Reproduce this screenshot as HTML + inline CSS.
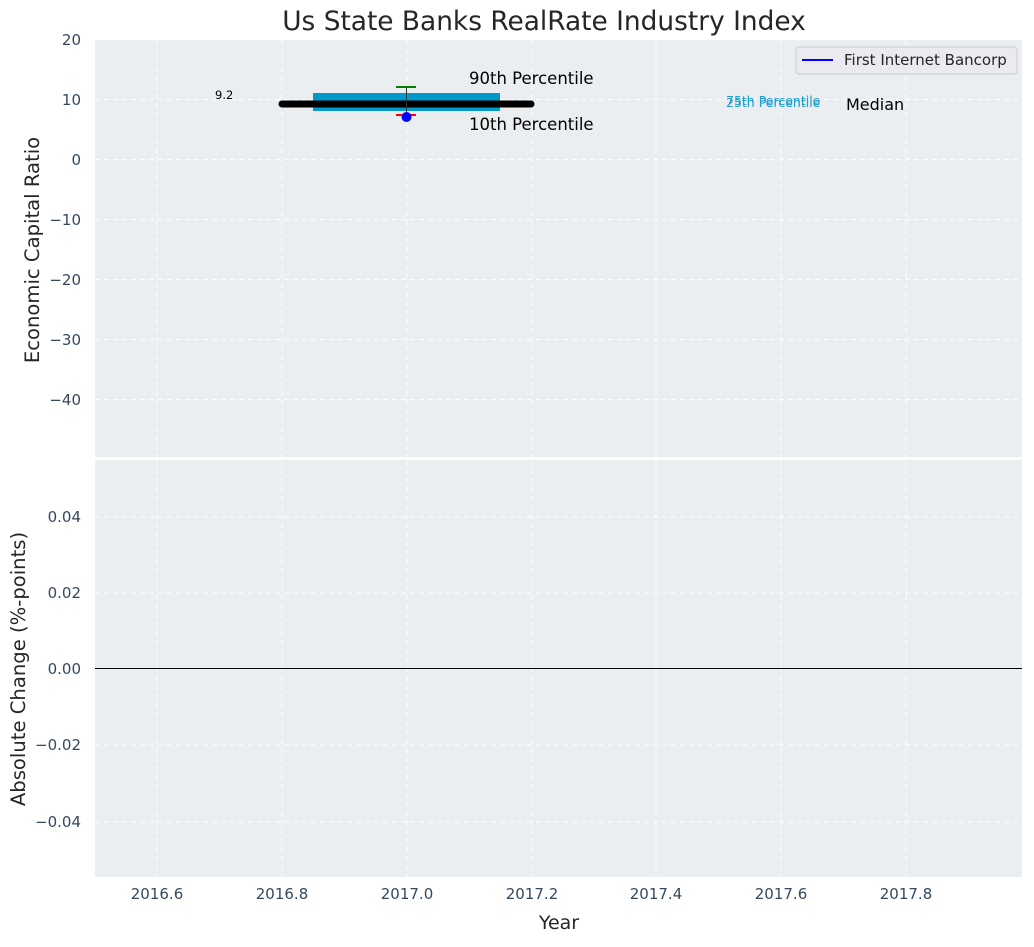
<!DOCTYPE html>
<html><head><meta charset="utf-8"><style>
html,body{margin:0;padding:0;background:#fff;}
svg text{font-family:"DejaVu Sans","Liberation Sans",sans-serif;}
</style></head><body>
<svg width="1034" height="942" viewBox="0 0 1034 942" xmlns="http://www.w3.org/2000/svg">
<rect width="1034" height="942" fill="#fff"/>
<text x="544" y="30" font-size="26.4" text-anchor="middle" fill="#262626">Us State Banks RealRate Industry Index</text>
<!-- top axes -->
<rect x="95" y="40" width="927" height="417" fill="#eaeef0"/>
<g stroke="#fff" stroke-dasharray="5,4" stroke-width="1" opacity="0.9">
<line x1="157" y1="40" x2="157" y2="457"/><line x1="282" y1="40" x2="282" y2="457"/><line x1="407" y1="40" x2="407" y2="457"/><line x1="532" y1="40" x2="532" y2="457"/><line x1="656" y1="40" x2="656" y2="457"/><line x1="781" y1="40" x2="781" y2="457"/><line x1="906" y1="40" x2="906" y2="457"/>
<line x1="95" y1="99.5" x2="1022" y2="99.5"/><line x1="95" y1="159.5" x2="1022" y2="159.5"/><line x1="95" y1="219.5" x2="1022" y2="219.5"/><line x1="95" y1="279.5" x2="1022" y2="279.5"/><line x1="95" y1="339.5" x2="1022" y2="339.5"/><line x1="95" y1="399.5" x2="1022" y2="399.5"/>
</g>
<g font-size="15" fill="#34495e" text-anchor="end">
<text x="81" y="45">20</text><text x="81" y="105">10</text><text x="81" y="165">0</text><text x="81" y="225">−10</text><text x="81" y="285">−20</text><text x="81" y="345">−30</text><text x="81" y="405">−40</text>
</g>
<text transform="translate(39,250) rotate(-90)" font-size="19.6" text-anchor="middle" fill="#262626">Economic Capital Ratio</text>
<rect x="313" y="93" width="187" height="18" fill="#0099cc"/>
<line x1="282" y1="104" x2="531" y2="104" stroke="#000" stroke-width="7" stroke-linecap="round"/>
<line x1="406.5" y1="87" x2="406.5" y2="117" stroke="#333" stroke-width="1"/>
<line x1="396" y1="87" x2="416" y2="87" stroke="green" stroke-width="2"/>
<line x1="396" y1="115" x2="416" y2="115" stroke="red" stroke-width="2"/>
<circle cx="406.5" cy="117" r="5" fill="blue"/>
<text x="215" y="99" font-size="11.5" fill="#000">9.2</text>
<text x="469" y="84" font-size="16.5" fill="#000">90th Percentile</text>
<text x="469" y="130" font-size="16.5" fill="#000">10th Percentile</text>
<text x="726" y="105" font-size="12.5" fill="#1fa0d0">75th Percentile</text>
<text x="726" y="107" font-size="12.5" fill="#1fa0d0">25th Percentile</text>
<text x="846" y="110" font-size="16" fill="#000">Median</text>
<rect x="796" y="47" width="221" height="27" rx="3" fill="#eaeaf0" stroke="#ccc"/>
<line x1="802" y1="60" x2="833" y2="60" stroke="blue" stroke-width="2"/>
<text x="844" y="65" font-size="15" fill="#262626">First Internet Bancorp</text>
<!-- bottom axes -->
<rect x="95" y="460" width="927" height="417" fill="#eaeef0"/>
<g stroke="#fff" stroke-dasharray="5,4" stroke-width="1" opacity="0.9">
<line x1="157" y1="460" x2="157" y2="877"/><line x1="282" y1="460" x2="282" y2="877"/><line x1="407" y1="460" x2="407" y2="877"/><line x1="532" y1="460" x2="532" y2="877"/><line x1="656" y1="460" x2="656" y2="877"/><line x1="781" y1="460" x2="781" y2="877"/><line x1="906" y1="460" x2="906" y2="877"/>
<line x1="95" y1="517" x2="1022" y2="517"/><line x1="95" y1="593" x2="1022" y2="593"/><line x1="95" y1="745" x2="1022" y2="745"/><line x1="95" y1="822" x2="1022" y2="822"/>
</g>
<line x1="95" y1="668.5" x2="1022" y2="668.5" stroke="#000" stroke-width="1"/>
<g font-size="15" fill="#34495e" text-anchor="end">
<text x="81" y="522">0.04</text><text x="81" y="598">0.02</text><text x="81" y="674">0.00</text><text x="81" y="750">−0.02</text><text x="81" y="827">−0.04</text>
</g>
<text transform="translate(25,669) rotate(-90)" font-size="19.6" text-anchor="middle" fill="#262626">Absolute Change (%-points)</text>
<g font-size="15" fill="#34495e" text-anchor="middle">
<text x="157" y="899">2016.6</text><text x="282" y="899">2016.8</text><text x="407" y="899">2017.0</text><text x="532" y="899">2017.2</text><text x="656" y="899">2017.4</text><text x="781" y="899">2017.6</text><text x="906" y="899">2017.8</text>
</g>
<text x="559" y="929" font-size="19" text-anchor="middle" fill="#262626">Year</text>
</svg>
</body></html>
